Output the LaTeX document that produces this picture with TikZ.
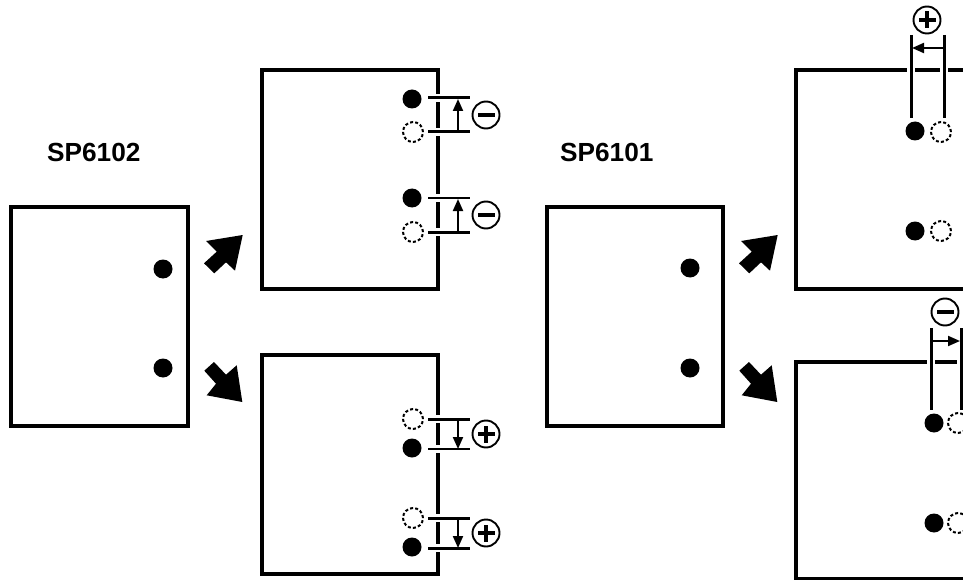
\documentclass[tikz,border=0pt]{standalone}
\usepackage{fontspec}
\setmainfont{Liberation Sans}
\usetikzlibrary{arrows.meta}
\tikzset{
  x=1pt,y=-1pt,
  panel/.style={draw=black,line width=3.2pt,line join=miter},
  soliddot/.style={circle,fill=black,inner sep=0pt,minimum size=19pt},
  ghostdot/.style={circle,draw=black,line width=2pt,dash pattern=on 3pt off 2.2pt,inner sep=0pt,minimum size=20pt},
  halo/.style={draw=white,line width=8.5pt},
  tick/.style={draw=black,line width=3pt},
  thintick/.style={draw=black,line width=2.2pt},
  measure/.style={draw=black,line width=2pt,-{Triangle[length=12pt,width=10pt]}},
  signring/.style={circle,draw=black,line width=1.9pt,inner sep=0pt,minimum size=27pt,fill=white},
  fatarrow/.style={fill=black,draw=none},
  title/.style={font=\bfseries\fontsize{26.2pt}{28pt}\selectfont,anchor=base west,inner sep=0pt}
}
\newcommand{\signminus}[1]{\fill[black] ([xshift=-8.5pt,yshift=-2.2pt]#1.center) rectangle ([xshift=8.5pt,yshift=2.2pt]#1.center);}
\newcommand{\signplus}[1]{\fill[black] ([xshift=-8.5pt,yshift=-2.2pt]#1.center) rectangle ([xshift=8.5pt,yshift=2.2pt]#1.center);
  \fill[black] ([xshift=-2.2pt,yshift=-8.5pt]#1.center) rectangle ([xshift=2.2pt,yshift=8.5pt]#1.center);}
\begin{document}
\begin{tikzpicture}
\useasboundingbox (0,0) rectangle (963,580);
\clip (0,0) rectangle (963,580);
% titles
\node[title] (t1) at (47,162) {SP6102};
\node[title] (t2) at (560,162) {SP6101};
% closed panels
\draw[panel] (11,207) rectangle (188,426);
\draw[panel] (262,70) rectangle (438,289);
\draw[panel] (262,355) rectangle (438,574);
\draw[panel] (547,207) rectangle (723,426);
% open panels
\draw[panel] (963,70) -- (796,70) -- (796,289) -- (963,289);
\draw[panel] (963,362) -- (796,362) -- (796,579) -- (963,579);
% dots, panels on the left and centre
\node[soliddot] (a1) at (163,269) {};
\node[soliddot] (a2) at (163,368) {};
\node[soliddot] (d1) at (690,268) {};
\node[soliddot] (d2) at (690,368) {};
% upper middle panel
\node[soliddot] (b1) at (412,99) {};
\node[ghostdot] (b2) at (413,132) {};
\node[soliddot] (b3) at (412,198) {};
\node[ghostdot] (b4) at (413,232) {};
\coordinate (bt1l) at (428,98); \coordinate (bt1r) at (470,98);
\coordinate (bt2l) at (428,132); \coordinate (bt2r) at (470,132);
\coordinate (bt3l) at (428,198); \coordinate (bt3r) at (470,198);
\coordinate (bt4l) at (428,232); \coordinate (bt4r) at (470,232);
\foreach \n in {1,...,4} {\draw[halo] (bt\n l) -- (bt\n r);}
\draw[tick] (bt1l) -- (bt1r);
\draw[tick] (bt2l) -- (bt2r);
\draw[thintick] (bt3l) -- (bt3r);
\draw[tick] (bt4l) -- (bt4r);
\coordinate (ba1s) at (458,132); \coordinate (ba1e) at (458,99);
\coordinate (ba2s) at (458,232); \coordinate (ba2e) at (458,199);
\draw[measure] (ba1s) -- (ba1e);
\draw[measure] (ba2s) -- (ba2e);
\node[signring] (bs1) at (486,115) {}; \signminus{bs1}
\node[signring] (bs2) at (486,215) {}; \signminus{bs2}
% lower middle panel
\node[ghostdot] (c1) at (413,419) {};
\node[soliddot] (c2) at (412,448) {};
\node[ghostdot] (c3) at (413,518) {};
\node[soliddot] (c4) at (412,547) {};
\coordinate (ct1l) at (428,419); \coordinate (ct1r) at (470,419);
\coordinate (ct2l) at (428,449); \coordinate (ct2r) at (470,449);
\coordinate (ct3l) at (428,518); \coordinate (ct3r) at (470,518);
\coordinate (ct4l) at (428,548); \coordinate (ct4r) at (470,548);
\foreach \n in {1,...,4} {\draw[halo] (ct\n l) -- (ct\n r);}
\draw[tick] (ct1l) -- (ct1r);
\draw[thintick] (ct2l) -- (ct2r);
\draw[tick] (ct3l) -- (ct3r);
\draw[tick] (ct4l) -- (ct4r);
\coordinate (ca1s) at (458,419); \coordinate (ca1e) at (458,449);
\coordinate (ca2s) at (458,518); \coordinate (ca2e) at (458,548);
\draw[measure] (ca1s) -- (ca1e);
\draw[measure] (ca2s) -- (ca2e);
\node[signring] (cs1) at (486,434) {}; \signplus{cs1}
\node[signring] (cs2) at (486,533) {}; \signplus{cs2}
% upper right panel
\node[soliddot] (e1) at (915,131) {};
\node[ghostdot] (e2) at (941,132) {};
\node[soliddot] (e3) at (915,231) {};
\node[ghostdot] (e4) at (941,231) {};
\coordinate (et1t) at (911,35); \coordinate (et1b) at (911,118);
\coordinate (et2t) at (944,35); \coordinate (et2b) at (944,118);
\draw[halo] (et1t) -- (et1b);
\draw[halo] (et2t) -- (et2b);
\draw[tick] (et1t) -- (et1b);
\draw[tick] (et2t) -- (et2b);
\coordinate (ea1s) at (944,48); \coordinate (ea1e) at (912,48);
\draw[measure] (ea1s) -- (ea1e);
\node[signring] (es1) at (927,20) {}; \signplus{es1}
% lower right panel
\node[soliddot] (f1) at (934,423) {};
\node[ghostdot] (f2) at (958,423) {};
\node[soliddot] (f3) at (934,523) {};
\node[ghostdot] (f4) at (958,523) {};
\coordinate (ft1t) at (931,328); \coordinate (ft1b) at (931,410);
\coordinate (ft2t) at (961,328); \coordinate (ft2b) at (961,410);
\draw[halo] (ft1t) -- (ft1b);
\draw[halo] (ft2t) -- (ft2b);
\draw[tick] (ft1t) -- (ft1b);
\draw[tick] (ft2t) -- (ft2b);
\coordinate (fa1s) at (931,341); \coordinate (fa1e) at (960,341);
\draw[measure] (fa1s) -- (fa1e);
\node[signring] (fs1) at (945,312) {}; \signminus{fs1}
% fat arrows
\foreach \dx in {0,535} {
  \fill[fatarrow,xshift=\dx pt] (242.7,235) -- (206,241) -- (216.7,251.7) -- (204,263.3) -- (214.3,273.3) -- (226,262.3) -- (235,270.7) -- cycle;
  \fill[fatarrow,xshift=\dx pt] (242.3,402) -- (206.7,395.3) -- (216,383.7) -- (204.3,370.7) -- (214,362) -- (226,374.7) -- (236.7,365.3) -- cycle;
}
\end{tikzpicture}
\end{document}
